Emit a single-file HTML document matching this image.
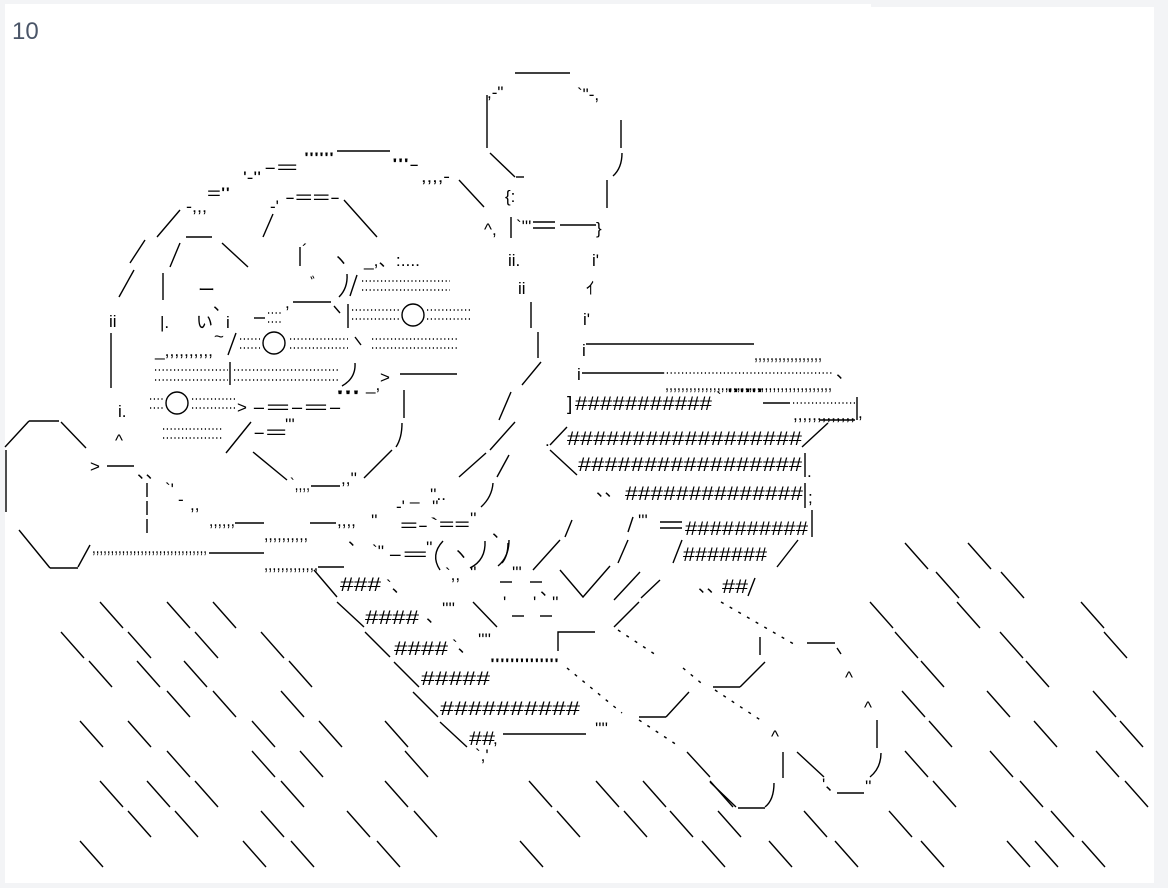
<!DOCTYPE html>
<html><head><meta charset="utf-8"><style>
html,body{margin:0;padding:0;background:#f3f4f6;}
body{width:1168px;height:888px;position:relative;overflow:hidden;}
#card{position:absolute;left:5px;top:7px;width:1149px;height:876px;background:#fff;}
#tab{position:absolute;left:5px;top:4px;width:866px;height:10px;background:#fff;}
#num{position:absolute;left:12px;top:18px;font:24px "Liberation Sans",sans-serif;color:#4a5568;}
svg{position:absolute;left:0;top:0;}
svg line,svg polyline,svg path,svg circle{stroke:#000;stroke-width:1.4;fill:none;}
svg text{font-family:"Liberation Sans","Noto Sans CJK JP",sans-serif;font-size:17px;fill:#000;}
.h{font-size:19px;}
.d{stroke-dasharray:1.2 2.6;stroke-width:1.6;}
</style></head><body>
<div id="card"></div><div id="tab"></div>
<div id="num">10</div>
<svg width="1168" height="888" viewBox="0 0 1168 888">
<!-- fist top -->
<line x1="515" y1="73" x2="570" y2="73"/>
<text x="487" y="98">,-"</text><text x="577" y="100">`"-,</text>
<line x1="487" y1="95" x2="487" y2="148"/>
<line x1="621" y1="120" x2="621" y2="148"/>
<line x1="490" y1="153" x2="515" y2="177"/><line x1="516" y1="177" x2="524" y2="177"/>
<path d="M622 153 Q622 168 613 176"/>
<line x1="607" y1="180" x2="607" y2="208"/>
<text x="505" y="202">{:</text>
<text x="484" y="235">^,</text><line x1="511" y1="217" x2="511" y2="238"/>
<text x="516" y="232">`'''</text><line x1="533" y1="222" x2="555" y2="222"/><line x1="533" y1="228" x2="555" y2="228"/>
<line x1="560" y1="225" x2="596" y2="225"/><text x="596" y="234">}</text>
<text x="508" y="266">ii.</text><text x="592" y="266">i'</text>
<text x="518" y="294">ii</text><text x="586" y="294">ｲ</text>
<line x1="531" y1="302" x2="531" y2="328"/><text x="583" y="325">i'</text>
<line x1="538" y1="332" x2="538" y2="358"/>
<text x="582" y="356">i</text><line x1="586" y1="344" x2="754" y2="344"/>
<text x="754" y="360" textLength="68" lengthAdjust="spacingAndGlyphs" font-size="14">,,,,,,,,,,,,,,,,,</text>
<!-- head top arc -->
<text x="264" y="173" textLength="34" lengthAdjust="spacingAndGlyphs" font-size="20">-=</text>
<text x="304" y="164" textLength="30" lengthAdjust="spacingAndGlyphs" font-size="14">''''''</text>
<line x1="337" y1="151" x2="390" y2="151"/>
<text x="392" y="170" textLength="27" lengthAdjust="spacingAndGlyphs">'''-</text>
<text x="421" y="182" textLength="29" lengthAdjust="spacingAndGlyphs" font-size="14">,,,,-</text>
<line x1="459" y1="180" x2="484" y2="207"/>
<text x="243" y="183" textLength="18" lengthAdjust="spacingAndGlyphs">'-''</text>
<text x="207" y="199" textLength="23" lengthAdjust="spacingAndGlyphs" font-size="20">=''</text>
<text x="186" y="212" textLength="21" lengthAdjust="spacingAndGlyphs">-,,,</text>
<line x1="180" y1="210" x2="157" y2="237"/>
<line x1="145" y1="240" x2="130" y2="263"/>
<line x1="134" y1="270" x2="119" y2="297"/>
<text x="109" y="327">ii</text>
<line x1="111" y1="333" x2="111" y2="388"/>
<text x="118" y="417">i.</text><text x="115" y="446">^</text>
<!-- brow -->
<text x="285" y="203" textLength="55" lengthAdjust="spacingAndGlyphs" font-size="20">-==-</text>
<line x1="344" y1="200" x2="377" y2="237"/>
<text x="270" y="212">-'</text><line x1="273" y1="214" x2="263" y2="237"/>
<line x1="186" y1="237" x2="212" y2="237"/>
<line x1="222" y1="243" x2="248" y2="267"/>
<line x1="180" y1="243" x2="170" y2="267"/>
<line x1="163" y1="273" x2="163" y2="300"/><text x="160" y="328">|.</text>
<!-- nose / eye area -->
<line x1="300" y1="247" x2="300" y2="266"/><text x="302" y="256">´</text>
<text x="332" y="266">ヽ</text>
<text x="310" y="290" font-size="14">ﾞ</text>
<path d="M347 274 Q348 288 339 297"/><line x1="357" y1="275" x2="350" y2="296"/>
<text x="364" y="266" textLength="56" lengthAdjust="spacingAndGlyphs">_,、:....</text>
<line class="d" x1="362" y1="281" x2="450" y2="281"/><line class="d" x1="362" y1="290" x2="450" y2="290"/>
<text x="198" y="296">ー</text><text x="196" y="328">い</text><text x="226" y="328">i</text>
<text x="213" y="310">、</text>
<line x1="254" y1="318" x2="265" y2="318"/>
<line class="d" x1="268" y1="313" x2="282" y2="313"/><line class="d" x1="268" y1="322" x2="282" y2="322"/>
<line x1="293" y1="302" x2="331" y2="302"/><text x="285" y="308">,</text>
<line x1="334" y1="306" x2="340" y2="313"/>
<line x1="348" y1="304" x2="348" y2="328"/>
<line class="d" x1="352" y1="310" x2="400" y2="310"/><line class="d" x1="352" y1="319" x2="400" y2="319"/>
<circle cx="413" cy="315" r="11"/>
<line class="d" x1="427" y1="310" x2="470" y2="310"/><line class="d" x1="427" y1="319" x2="470" y2="319"/>
<text x="214" y="342">~</text>
<text x="155" y="356" textLength="58" lengthAdjust="spacingAndGlyphs" font-size="14">_,,,,,,,,,,</text>
<line x1="236" y1="333" x2="228" y2="355"/>
<line class="d" x1="240" y1="339" x2="260" y2="339"/><line class="d" x1="240" y1="348" x2="260" y2="348"/>
<circle cx="274" cy="343" r="11"/>
<line class="d" x1="290" y1="339" x2="348" y2="339"/><line class="d" x1="290" y1="348" x2="348" y2="348"/>
<line x1="355" y1="337" x2="361" y2="345"/>
<line class="d" x1="372" y1="339" x2="458" y2="339"/><line class="d" x1="372" y1="348" x2="458" y2="348"/>
<line class="d" x1="155" y1="370" x2="228" y2="370"/><line class="d" x1="155" y1="380" x2="228" y2="380"/>
<line x1="230" y1="362" x2="230" y2="385"/>
<line class="d" x1="234" y1="370" x2="340" y2="370"/><line class="d" x1="234" y1="380" x2="340" y2="380"/>
<path d="M355 363 Q356 378 342 386"/>
<text x="366" y="390">_,</text><text x="380" y="383">&gt;</text>
<line x1="400" y1="374" x2="457" y2="374"/>
<line class="d" x1="150" y1="399" x2="163" y2="399"/><line class="d" x1="150" y1="408" x2="163" y2="408"/>
<circle cx="177" cy="403" r="11"/>
<line class="d" x1="192" y1="399" x2="235" y2="399"/><line class="d" x1="192" y1="408" x2="235" y2="408"/>
<text x="237" y="413">&gt;</text><text x="252" y="413" textLength="90" lengthAdjust="spacingAndGlyphs" font-size="20">-=-=-</text>
<text x="336" y="402" textLength="24" lengthAdjust="spacingAndGlyphs" font-size="14">'''</text>
<line x1="404" y1="390" x2="404" y2="418"/>
<line class="d" x1="163" y1="429" x2="222" y2="429"/><line class="d" x1="163" y1="438" x2="222" y2="438"/>
<line x1="251" y1="422" x2="226" y2="453"/>
<text x="253" y="438" textLength="34" lengthAdjust="spacingAndGlyphs" font-size="20">-=</text><text x="285" y="430" font-size="14">'''</text>
<path d="M402 423 Q402 438 396 447"/>
<!-- jaw -->
<line x1="253" y1="452" x2="287" y2="480"/>
<text x="290" y="490" textLength="20" lengthAdjust="spacingAndGlyphs" font-size="14">`,,,,</text><line x1="311" y1="486" x2="340" y2="486"/><text x="341" y="484" font-size="14">,,''</text>
<line x1="364" y1="478" x2="392" y2="450"/>
<!-- right side of head/arm -->
<line x1="541" y1="362" x2="522" y2="385"/>
<line x1="511" y1="392" x2="499" y2="420"/>
<line x1="515" y1="422" x2="490" y2="450"/>
<line x1="486" y1="453" x2="459" y2="477"/>
<line x1="509" y1="455" x2="497" y2="477"/>
<path d="M493 483 Q492 497 481 507"/>
<text x="410" y="500">_</text><text x="430" y="500" font-size="14">''..</text>
<text x="396" y="512">-'</text><text x="432" y="512" font-size="14">''</text>
<text x="400" y="531" textLength="28" lengthAdjust="spacingAndGlyphs" font-size="20">=-</text><text x="430" y="530" textLength="40" lengthAdjust="spacingAndGlyphs" font-size="20">`==</text><text x="470" y="524" font-size="14">''</text>
<text x="492" y="537">、</text>
<!-- left fist -->
<line x1="5" y1="447" x2="29" y2="421"/><line x1="29" y1="421" x2="59" y2="421"/><line x1="61" y1="422" x2="86" y2="448"/>
<line x1="6" y1="450" x2="6" y2="512"/>
<text x="90" y="472">&gt;</text><line x1="107" y1="466" x2="134" y2="466"/>
<text x="137" y="478">、、</text>
<text x="165" y="495">`'</text><text x="178" y="505">-</text><text x="190" y="510" font-size="14">,,</text>
<line x1="147" y1="483" x2="147" y2="537" style="stroke-dasharray:14 4"/>
<line x1="19" y1="530" x2="50" y2="568"/><line x1="50" y1="568" x2="78" y2="568"/><line x1="78" y1="567" x2="90" y2="545"/>
<text x="92" y="553" textLength="115" lengthAdjust="spacingAndGlyphs" font-size="14">,,,,,,,,,,,,,,,,,,,,,,,,,,,,,,,</text>
<line x1="209" y1="553" x2="264" y2="553"/>
<text x="264" y="570" textLength="54" lengthAdjust="spacingAndGlyphs" font-size="14">,,,,,,,,,,,,,</text>
<line x1="318" y1="567" x2="344" y2="567"/>
<text x="209" y="526" textLength="26" lengthAdjust="spacingAndGlyphs" font-size="14">,,,,,,</text>
<line x1="235" y1="523" x2="264" y2="523"/>
<text x="264" y="540" textLength="44" lengthAdjust="spacingAndGlyphs" font-size="14">,,,,,,,,,,</text>
<line x1="310" y1="523" x2="336" y2="523"/><text x="337" y="526" font-size="14">,,,,</text>
<text x="371" y="526" font-size="14">''</text>
<text x="348" y="545">、</text>
<text x="372" y="557" font-size="14">`''</text><text x="388" y="560" textLength="40" lengthAdjust="spacingAndGlyphs" font-size="20">-=</text><text x="426" y="553" font-size="14">''</text>
<path d="M443 541 Q430 555 440 570"/><text x="452" y="560">ヽ</text><path d="M485 541 Q486 560 470 568"/>
<path d="M509 540 Q509 557 498 566"/>
<text x="445" y="580" font-size="14">`,,</text><text x="470" y="578" font-size="14">''</text>
<line x1="500" y1="582" x2="512" y2="582"/><text x="512" y="578" font-size="14">'''</text>
<line x1="530" y1="582" x2="542" y2="582"/><text x="540" y="595">、</text>
<text x="503" y="608" font-size="14">'</text><line x1="512" y1="616" x2="524" y2="616"/><text x="533" y="608" font-size="14">'</text><line x1="540" y1="616" x2="552" y2="616"/><text x="552" y="608" font-size="14">''</text>
<!-- hash body left -->
<line x1="314" y1="570" x2="337" y2="597"/>
<text class="h" x="340" y="591" textLength="41" lengthAdjust="spacingAndGlyphs">###</text><text x="386" y="592">`、</text>
<line x1="337" y1="602" x2="364" y2="627"/>
<text class="h" x="365" y="624" textLength="54" lengthAdjust="spacingAndGlyphs">####</text><text x="426" y="622">、</text><text x="442" y="614" font-size="14">''''</text>
<line x1="473" y1="602" x2="497" y2="627"/>
<line x1="365" y1="632" x2="390" y2="657"/>
<text class="h" x="394" y="655" textLength="54" lengthAdjust="spacingAndGlyphs">####</text><text x="452" y="652">`、</text><text x="478" y="645" font-size="14">''''</text>
<path d="M558 651 L558 632 L595 632"/>
<line x1="394" y1="662" x2="419" y2="687"/>
<text class="h" x="421" y="685" textLength="69" lengthAdjust="spacingAndGlyphs">#####</text><text x="490" y="670" textLength="69" lengthAdjust="spacingAndGlyphs" font-size="14">''''''''''''''</text>
<line x1="413" y1="692" x2="438" y2="717"/>
<text class="h" x="440" y="715" textLength="140" lengthAdjust="spacingAndGlyphs">##########</text>
<line x1="440" y1="722" x2="467" y2="747"/>
<text class="h" x="469" y="745" textLength="26" lengthAdjust="spacingAndGlyphs">##</text><text x="493" y="744">,</text>
<line x1="503" y1="734" x2="586" y2="734"/><text x="475" y="761" font-size="14">`,'</text>
<text x="595" y="734" font-size="14">''''</text>
<!-- hash body right -->
<text class="h" x="567" y="410">]</text><text class="h" x="575" y="410" textLength="137" lengthAdjust="spacingAndGlyphs">###########</text>
<text x="716" y="404" font-size="14">`</text><text x="727" y="400" textLength="36" lengthAdjust="spacingAndGlyphs" font-size="14">''''''</text>
<line x1="763" y1="403" x2="790" y2="403"/>
<line class="d" x1="793" y1="403" x2="855" y2="403"/>
<text x="793" y="420" textLength="62" lengthAdjust="spacingAndGlyphs" font-size="14">,,,,,,,,,,,,,</text><line x1="820" y1="420" x2="855" y2="420"/>
<line x1="857" y1="397" x2="857" y2="420"/><text x="858" y="418">,</text>
<text x="577" y="380">i</text><line x1="582" y1="373" x2="663" y2="373"/>
<line class="d" x1="663" y1="373" x2="833" y2="373"/><text x="836" y="378">、</text>
<text x="665" y="390" textLength="167" lengthAdjust="spacingAndGlyphs" font-size="14">,,,,,,,,,,,,,,,,,,,,,,,,,,,,,,,,,,,,,,,,,,</text>
<text x="545" y="446">.</text><line x1="567" y1="427" x2="550" y2="445"/>
<text class="h" x="567" y="445" textLength="235" lengthAdjust="spacingAndGlyphs">##################</text>
<line x1="802" y1="447" x2="828" y2="423"/>
<line x1="550" y1="450" x2="577" y2="475"/>
<text class="h" x="578" y="471" textLength="224" lengthAdjust="spacingAndGlyphs">#################</text>
<line x1="805" y1="453" x2="805" y2="477"/><text x="807" y="477">.</text>
<text x="596" y="496">、、</text>
<text class="h" x="625" y="500" textLength="178" lengthAdjust="spacingAndGlyphs">##############</text>
<line x1="805" y1="483" x2="805" y2="508"/><text x="808" y="503">;</text>
<line x1="572" y1="520" x2="565" y2="537"/>
<line x1="633" y1="517" x2="628" y2="532"/><text x="638" y="526" font-size="14">'''</text>
<line x1="660" y1="522" x2="682" y2="522"/><line x1="660" y1="528" x2="682" y2="528"/>
<text class="h" x="685" y="535" textLength="123" lengthAdjust="spacingAndGlyphs">##########</text>
<line x1="812" y1="510" x2="812" y2="537"/>
<path d="M508 543 Q508 556 502 563"/>
<line x1="560" y1="540" x2="533" y2="570"/>
<line x1="628" y1="540" x2="618" y2="563"/>
<line x1="682" y1="540" x2="673" y2="563"/>
<text class="h" x="683" y="561" textLength="84" lengthAdjust="spacingAndGlyphs">#######</text>
<line x1="798" y1="540" x2="777" y2="567"/>
<polyline points="560,570 583,597 610,566"/>
<line x1="640" y1="572" x2="614" y2="600"/>
<text x="698" y="592">、、</text><text class="h" x="722" y="593" textLength="26" lengthAdjust="spacingAndGlyphs">##</text><line x1="755" y1="578" x2="748" y2="596"/>
<!-- lower fist/legs -->
<line x1="660" y1="580" x2="641" y2="598"/>
<line x1="639" y1="602" x2="614" y2="627"/>
<line x1="721" y1="602" x2="799" y2="647" style="stroke-dasharray:3 7"/>
<line x1="807" y1="643" x2="835" y2="643"/><line x1="837" y1="648" x2="841" y2="654"/>
<line x1="760" y1="637" x2="760" y2="655"/>
<line x1="765" y1="662" x2="740" y2="687"/><line x1="713" y1="687" x2="740" y2="687"/>
<line x1="689" y1="692" x2="666" y2="717"/><line x1="639" y1="717" x2="666" y2="717"/>
<line x1="618" y1="630" x2="656" y2="655" style="stroke-dasharray:3 7"/>
<line x1="683" y1="668" x2="706" y2="687" style="stroke-dasharray:3 7"/>
<line x1="567" y1="668" x2="622" y2="713" style="stroke-dasharray:3 7"/>
<line x1="715" y1="690" x2="765" y2="723" style="stroke-dasharray:3 7"/>
<line x1="639" y1="720" x2="677" y2="745" style="stroke-dasharray:3 7"/>
<text x="845" y="683">^</text><text x="864" y="713">^</text>
<line x1="877" y1="720" x2="877" y2="748"/>
<path d="M881 753 Q881 768 870 777"/><text x="865" y="792" font-size="14">''</text>
<line x1="837" y1="793" x2="864" y2="793"/><text x="822" y="790" font-size="14">'、</text>
<line x1="797" y1="752" x2="824" y2="777"/>
<text x="771" y="742">^</text>
<line x1="783" y1="752" x2="783" y2="778"/>
<path d="M774 783 Q774 800 765 807"/><line x1="738" y1="808" x2="765" y2="808"/>
<line x1="687" y1="752" x2="710" y2="777"/><line x1="710" y1="782" x2="736" y2="807"/>
<!-- rain -->
<g>
<line x1="100" y1="602" x2="123" y2="628"/><line x1="167" y1="602" x2="190" y2="628"/><line x1="213" y1="602" x2="236" y2="628"/>
<line x1="61" y1="632" x2="84" y2="658"/><line x1="128" y1="632" x2="151" y2="658"/><line x1="195" y1="632" x2="218" y2="658"/><line x1="261" y1="632" x2="284" y2="658"/>
<line x1="89" y1="661" x2="112" y2="687"/><line x1="137" y1="661" x2="160" y2="687"/><line x1="184" y1="661" x2="207" y2="687"/><line x1="289" y1="661" x2="312" y2="687"/>
<line x1="167" y1="691" x2="190" y2="717"/><line x1="213" y1="691" x2="236" y2="717"/><line x1="281" y1="691" x2="304" y2="717"/>
<line x1="80" y1="721" x2="103" y2="747"/><line x1="128" y1="721" x2="151" y2="747"/><line x1="252" y1="721" x2="275" y2="747"/><line x1="319" y1="721" x2="342" y2="747"/><line x1="385" y1="721" x2="408" y2="747"/>
<line x1="167" y1="751" x2="190" y2="777"/><line x1="252" y1="751" x2="275" y2="777"/><line x1="300" y1="751" x2="323" y2="777"/><line x1="405" y1="751" x2="428" y2="777"/>
<line x1="100" y1="781" x2="123" y2="807"/><line x1="147" y1="781" x2="170" y2="807"/><line x1="195" y1="781" x2="218" y2="807"/><line x1="281" y1="781" x2="304" y2="807"/><line x1="385" y1="781" x2="408" y2="807"/><line x1="529" y1="781" x2="552" y2="807"/>
<line x1="128" y1="811" x2="151" y2="837"/><line x1="175" y1="811" x2="198" y2="837"/><line x1="261" y1="811" x2="284" y2="837"/><line x1="347" y1="811" x2="370" y2="837"/><line x1="414" y1="811" x2="437" y2="837"/><line x1="557" y1="811" x2="580" y2="837"/>
<line x1="80" y1="841" x2="103" y2="867"/><line x1="243" y1="841" x2="266" y2="867"/><line x1="291" y1="841" x2="314" y2="867"/><line x1="377" y1="841" x2="400" y2="867"/><line x1="520" y1="841" x2="543" y2="867"/>
<line x1="596" y1="781" x2="619" y2="807"/><line x1="643" y1="781" x2="666" y2="807"/><line x1="710" y1="781" x2="733" y2="807"/><line x1="933" y1="781" x2="956" y2="807"/><line x1="1020" y1="781" x2="1043" y2="807"/><line x1="1125" y1="781" x2="1148" y2="807"/>
<line x1="624" y1="811" x2="647" y2="837"/><line x1="670" y1="811" x2="693" y2="837"/><line x1="718" y1="811" x2="741" y2="837"/><line x1="804" y1="811" x2="827" y2="837"/><line x1="889" y1="811" x2="912" y2="837"/><line x1="1051" y1="811" x2="1074" y2="837"/>
<line x1="702" y1="841" x2="725" y2="867"/><line x1="769" y1="841" x2="792" y2="867"/><line x1="835" y1="841" x2="858" y2="867"/><line x1="921" y1="841" x2="944" y2="867"/><line x1="1007" y1="841" x2="1030" y2="867"/><line x1="1035" y1="841" x2="1058" y2="867"/><line x1="1082" y1="841" x2="1105" y2="867"/>
<line x1="905" y1="543" x2="928" y2="569"/><line x1="968" y1="543" x2="991" y2="569"/>
<line x1="936" y1="572" x2="959" y2="598"/><line x1="1001" y1="572" x2="1024" y2="598"/>
<line x1="870" y1="602" x2="893" y2="628"/><line x1="957" y1="602" x2="980" y2="628"/><line x1="1081" y1="602" x2="1104" y2="628"/>
<line x1="895" y1="632" x2="918" y2="658"/><line x1="1000" y1="632" x2="1023" y2="658"/><line x1="1104" y1="632" x2="1127" y2="658"/>
<line x1="921" y1="661" x2="944" y2="687"/><line x1="1026" y1="661" x2="1049" y2="687"/>
<line x1="902" y1="691" x2="925" y2="717"/><line x1="987" y1="691" x2="1010" y2="717"/><line x1="1093" y1="691" x2="1116" y2="717"/>
<line x1="929" y1="721" x2="952" y2="747"/><line x1="1034" y1="721" x2="1057" y2="747"/><line x1="1120" y1="721" x2="1143" y2="747"/>
<line x1="905" y1="751" x2="928" y2="777"/><line x1="990" y1="751" x2="1013" y2="777"/><line x1="1096" y1="751" x2="1119" y2="777"/>
</g>
</svg>
</body></html>
